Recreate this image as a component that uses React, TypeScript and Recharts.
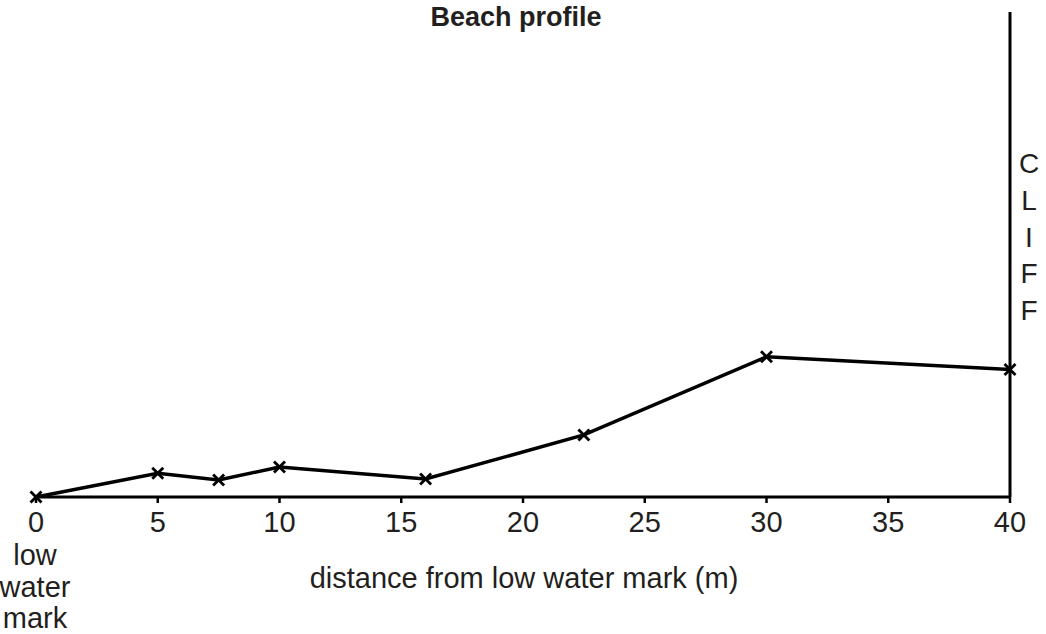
import { LineChart, Line, XAxis, YAxis, ReferenceLine } from "recharts";

// distance from low water mark (m)
const distances = [0, 5, 7.5, 10, 16, 22.5, 30, 40];
// beach height above low water mark (arbitrary units, axis hidden)
const heights = [0, 0.49, 0.35, 0.62, 0.37, 1.28, 2.89, 2.63];
const xTicks = [0, 5, 10, 15, 20, 25, 30, 35, 40];
const cliffLetters = ["C", "L", "I", "F", "F"];
const lowWaterLines = ["low", "water", "mark"];

const data = distances.map((d, i) => ({ distance: d, height: heights[i] }));

const FONT = "'Liberation Sans', Arial, Helvetica, sans-serif";
const INK = "#231f20";

const CrossDot = (props: any) => {
  const { cx, cy } = props;
  if (cx == null || cy == null) return null;
  const s = 5.5;
  return (
    <g>
      <line x1={cx - s} y1={cy - s} x2={cx + s} y2={cy + s} stroke="#000" strokeWidth={2.8} />
      <line x1={cx - s} y1={cy + s} x2={cx + s} y2={cy - s} stroke="#000" strokeWidth={2.8} />
    </g>
  );
};

const App = () => {
  return (
    <div style={{ position: "absolute", left: 0, top: 0, width: 1046, height: 634, background: "#fff" }}>
      <LineChart
        width={1046}
        height={634}
        data={data}
        margin={{ top: 12, right: 36, left: 36, bottom: 107 }}
      >
        <XAxis
          dataKey="distance"
          type="number"
          domain={[0, 40]}
          ticks={xTicks}
          interval={0}
          height={30}
          axisLine={{ stroke: "#000", strokeWidth: 3 }}
          tickLine={{ stroke: "#000", strokeWidth: 2.5 }}
          tickSize={6}
          tickMargin={8}
          tick={{ fill: INK, fontSize: 29, fontFamily: FONT }}
        />
        <YAxis type="number" domain={[0, 10]} hide />
        {/* the cliff face */}
        <ReferenceLine x={40} stroke="#000" strokeWidth={3} ifOverflow="visible" />
        <Line
          type="linear"
          dataKey="height"
          stroke="#000"
          strokeWidth={3.5}
          dot={<CrossDot />}
          activeDot={false}
          isAnimationActive={false}
        />
      </LineChart>
      <svg
        width={1046}
        height={634}
        style={{ position: "absolute", left: 0, top: 0, pointerEvents: "none" }}
      >
        <text x={516} y={26} textAnchor="middle" fontFamily={FONT} fontWeight="bold" fontSize={27} fill={INK}>
          Beach profile
        </text>
        <text x={524} y={588} textAnchor="middle" fontFamily={FONT} fontSize={29} fill={INK}>
          distance from low water mark (m)
        </text>
        {lowWaterLines.map((w, i) => (
          <text key={w} x={35} y={565 + i * 31.5} textAnchor="middle" fontFamily={FONT} fontSize={29} fill={INK}>
            {w}
          </text>
        ))}
        {cliffLetters.map((c, i) => (
          <text key={i} x={1029} y={173 + i * 36.8} textAnchor="middle" fontFamily={FONT} fontSize={28} fill={INK}>
            {c}
          </text>
        ))}
      </svg>
    </div>
  );
};

export default App;
